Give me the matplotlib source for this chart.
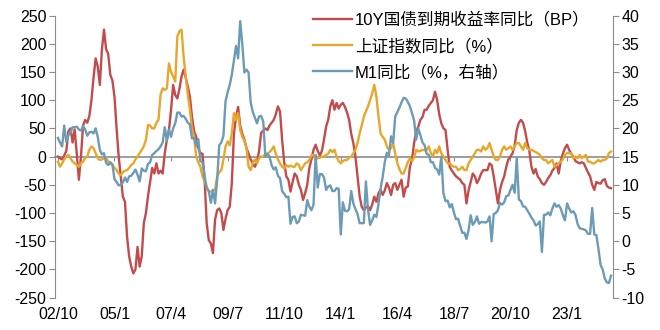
import numpy as np
import pandas as pd
import matplotlib
matplotlib.use("Agg")
import matplotlib.pyplot as plt

plt.rcParams["font.family"] = ["Liberation Sans", "Noto Sans CJK SC", "DejaVu Sans"]
plt.rcParams["axes.unicode_minus"] = False

# ---- data: monthly, 2002-10 .. 2024-10 ----
dates = pd.date_range("2002-10-01", "2024-10-01", freq="MS")

# 10Y CGB yield, YoY change (BP), left axis
red_10y_bp = [
    0, -3, -5,                                                        # 2002 Oct-Dec
    2, 10, 45, 50, 25, 48, 5, -41, 0, 55, 65, 60,                     # 2003
    72, 100, 140, 174, 160, 127, 190, 225, 190, 182, 145, 135,        # 2004
    106, 50, 0, -35, -71, -80, -142, -177, -195, -207, -200, -160,    # 2005
    -195, -177, -118, -100, -70, -45, -20, -30, -12, -30, -25, -30,   # 2006
    6, 30, 47, 83, 127, 109, 103, 120, 142, 154, 140, 124,            # 2007
    106, 70, 45, 35, 15, 6, 5, -40, -118, -148, -154, -171,           # 2008
    -112, -95, -92, -100, -130, -110, -95, -89, -47, 40, 70, 88,      # 2009
    55, 40, 30, 15, 5, -5, -12, -18, -10, 10, 42, 46,                 # 2010
    50, 47, 55, 60, 65, 75, 89, 80, 30, -10, -35, -41,                # 2011
    -62, -45, -30, -35, -50, -59, -77, -65, -50, -20, -5, 12,         # 2012
    21, 10, 2, 10, 30, 53, 65, 89, 100, 83, 95, 85,                   # 2013
    92, 95, 88, 78, 65, 40, 24, 0, -35, -70, -89, -95,                # 2014
    -90, -88, -95, -85, -71, -80, -65, -59, -68, -60, -47, -55,       # 2015
    -68, -50, -47, -59, -50, -41, -71, -55, -53, -18, -5, 24,         # 2016
    45, 53, 65, 70, 83, 83, 90, 95, 100, 115, 100, 75,                # 2017
    59, 50, 47, 12, -18, -25, -30, -35, -38, -41, -47, -50,           # 2018
    -83, -60, -45, -30, -35, -47, -40, -30, -24, -24, -24, -12,       # 2019
    -15, -35, -59, -83, -59, -45, -35, -18, -5, 0, 6, 20,             # 2020
    47, 60, 65, 60, 45, 25, 10, -18, -30, -22, -35, -40,              # 2021
    -47, -50, -45, -38, -33, -25, -20, -12, -30, -8, 5, 15,           # 2022
    21, 12, 5, 0, -8, -10, -12, -10, -12, -20, -28, -35,              # 2023
    -50, -59, -45, -47, -48, -42, -40, -52, -55, -56,                 # 2024 Jan-Oct
]

# SSE composite index YoY (%), left axis
sse_yoy = [
    -9, -18, -12,                                                     # 2002
    -5, 0, 3, -3, -9, -12, -15, -18, -12, -9, -3, 0,                  # 2003
    12, 18, 15, 6, -3, -6, -5, -3, -3, -8, -12, -15,                  # 2004
    -20, -24, -30, -33, -28, -25, -24, -20, -15, -12, -5, 0,          # 2005
    6, 12, 18, 30, 56, 55, 50, 50, 60, 65, 110, 121,                  # 2006
    118, 121, 165, 150, 142, 133, 213, 222, 225, 177, 142, 110,       # 2007
    83, 50, 35, 0, -10, -18, -35, -45, -53, -62, -62, -60,            # 2008
    -59, -35, -28, -24, -5, 18, 27, 20, 41, 77, 65, 77,               # 2009
    47, 35, 28, 15, -18, -24, -12, -5, -12, -3, 0, 0,                 # 2010
    5, 5, 8, 12, 18, 5, -5, -12, -18, -21, -15, -18,                  # 2011
    -16, -18, -18, -12, -15, -24, -18, -12, -10, -6, 2, 3,            # 2012
    -5, -3, -2, 0, 0, 3, 5, 12, 8, 12, 0, -8,                         # 2013
    -12, -8, -6, -6, -2, 0, 6, 12, 24, 41, 55, 71,                    # 2014
    80, 89, 100, 112, 127, 106, 71, 41, 35, 30, 18, 12,               # 2015
    15, 24, 5, -12, -22, -30, -30, -20, -10, -3, -8, -2,              # 2016
    12, 9, 10, 12, 11, 12, 18, 6, 0, 12, 6, 18,                       # 2017
    6, 0, -6, -12, -12, -16, -18, -18, -24, -22, -18, -24,            # 2018
    -24, -12, -6, 0, 6, 12, 12, 9, 18, 12, 15, 24,                    # 2019
    12, 0, -6, -6, 0, 12, 18, 12, 15, 18, 12, 18,                     # 2020
    24, 24, 18, 12, 24, 15, 12, 12, 10, 8, 6, 3,                      # 2021
    -3, -6, -6, -12, -9, -6, -18, -15, -12, -9, -5, 3,                # 2022
    6, 6, 6, -3, 0, -3, 3, -3, 0, 3, -9, -9,                          # 2023
    -12, -12, -9, -6, -9, -6, -6, -3, 6, 9,                           # 2024
]

# M1 YoY (%), right axis
m1_yoy = [
    18.3, 17.5, 16.8,                                                          # 2002
    20.5, 17.6, 18.8, 19.2, 20.2, 20.2, 20.3, 19.8, 19.6, 20.4, 19.8, 18.7,    # 2003
    19.3, 19.4, 19.1, 20.0, 18.5, 16.2, 15.4, 15.6, 13.9, 13.5, 14.0, 13.6,    # 2004
    11.0, 10.5, 9.9, 10.0, 10.4, 11.3, 10.5, 11.5, 11.6, 12.1, 12.7, 11.8,     # 2005
    10.6, 12.9, 12.5, 12.4, 13.7, 14.0, 15.3, 15.6, 16.0, 16.3, 16.8, 17.5,    # 2006
    20.2, 17.8, 19.8, 18.5, 20.0, 20.9, 22.8, 22.8, 22.1, 22.2, 21.7, 21.0,    # 2007
    20.7, 18.2, 18.3, 16.9, 18.1, 14.2, 14.0, 11.6, 9.4, 8.9, 6.8, 9.1,        # 2008
    6.7, 10.9, 17.0, 17.5, 18.7, 24.8, 26.4, 27.7, 29.5, 32.0, 34.6, 32.4,     # 2009
    39.0, 34.9, 29.9, 30.4, 29.9, 24.6, 22.9, 21.9, 20.9, 22.1, 22.2, 21.2,    # 2010
    15.0, 15.5, 15.0, 13.5, 12.7, 13.1, 11.6, 11.2, 8.9, 8.4, 7.8, 7.9,        # 2011
    3.1, 4.3, 4.4, 3.2, 3.5, 4.7, 4.6, 4.5, 7.3, 6.1, 5.5, 6.5,                # 2012
    15.3, 9.5, 11.9, 11.9, 11.3, 9.1, 9.7, 9.9, 8.9, 8.9, 9.4, 9.3,            # 2013
    1.2, 6.9, 5.4, 5.3, 5.7, 8.9, 6.7, 5.7, 4.8, 3.2, 3.2, 3.2,                # 2014
    10.6, 5.6, 2.9, 3.7, 4.7, 4.3, 6.6, 9.3, 11.4, 14.0, 15.7, 15.2,           # 2015
    18.6, 17.4, 22.1, 22.9, 23.7, 24.6, 25.4, 25.3, 24.7, 23.9, 22.7, 21.4,    # 2016
    18.0, 20.0, 18.8, 17.5, 17.0, 15.5, 15.3, 14.0, 14.0, 13.0, 12.7, 11.8,    # 2017
    15.0, 8.5, 7.1, 7.2, 6.0, 6.6, 5.1, 3.9, 4.0, 2.7, 1.5, 1.5,               # 2018
    0.4, 2.0, 4.6, 2.9, 3.4, 4.4, 3.1, 3.4, 3.4, 3.3, 3.5, 4.4,                # 2019
    0.0, 4.8, 5.0, 5.5, 6.8, 6.5, 6.9, 8.0, 8.1, 9.1, 10.0, 8.6,               # 2020
    14.7, 7.4, 7.1, 6.2, 6.1, 5.5, 4.9, 4.2, 3.7, 2.8, 3.0, 3.5,               # 2021
    -1.9, 4.7, 4.7, 5.1, 4.6, 5.8, 6.7, 6.1, 6.4, 5.8, 4.6, 3.7,               # 2022
    6.7, 5.8, 5.1, 5.3, 4.7, 3.1, 2.3, 2.2, 2.1, 1.9, 1.3, 1.3,                # 2023
    5.9, 1.2, 1.1, -1.4, -4.2, -5.0, -6.6, -7.3, -7.4, -6.1,                   # 2024
]

labels = ["10Y国债到期收益率同比（BP）", "上证指数同比（%）", "M1同比（%，右轴）"]
colors = ["#C44B4C", "#E8A72A", "#6C9CB5"]

# ---- plot ----
x = np.arange(len(dates))
tick_idx = np.arange(0, len(dates), 27)
tick_lbl = [f"{dates[i].year % 100:02d}/{dates[i].month}" for i in tick_idx]

fig = plt.figure(figsize=(6.6, 3.3), dpi=100)
ax = fig.add_axes([0.083, 0.098, 0.846, 0.855])
ax2 = ax.twinx()

l1, = ax.plot(x, red_10y_bp, color=colors[0], lw=1.7, label=labels[0], zorder=3)
l2, = ax.plot(x, sse_yoy, color=colors[1], lw=1.7, label=labels[1], zorder=4)
l3, = ax2.plot(x, m1_yoy, color=colors[2], lw=1.7, label=labels[2])

ax.set_xlim(-1.5, 265)
ax.set_ylim(-250, 250)
ax.set_yticks(np.arange(-250, 251, 50))
ax2.set_ylim(-10, 40)
ax2.set_yticks(np.arange(-10, 41, 5))

spine_c = "#8C8C8C"
for a in (ax, ax2):
    for s in a.spines.values():
        s.set_color(spine_c)
    a.spines["top"].set_visible(False)
ax.spines["right"].set_visible(False)
ax2.spines["left"].set_visible(False)
ax2.spines["bottom"].set_visible(False)

# category axis crosses at zero
ax.spines["bottom"].set_position(("data", 0))
ax.spines["bottom"].set_linewidth(1.2)
ax.set_xticks(tick_idx)
ax.tick_params(axis="x", direction="out", length=3, color=spine_c, labelbottom=False)

sec = ax.secondary_xaxis("bottom")
sec.set_xticks(tick_idx)
sec.set_xticklabels(tick_lbl)
sec.spines["bottom"].set_visible(False)
sec.tick_params(axis="x", length=0, labelsize=11.5, pad=7)

ax.tick_params(axis="y", direction="out", length=4, color=spine_c, labelsize=11.5, pad=2)
ax2.tick_params(axis="y", direction="out", length=4, color=spine_c, labelsize=11.5, pad=2)

leg = ax2.legend(handles=[l1, l2, l3], loc="upper left", bbox_to_anchor=(0.462, 0.99),
                 bbox_transform=fig.transFigure, frameon=False, fontsize=12,
                 handlelength=2.3, handletextpad=0.2, labelspacing=0.62, borderpad=0)

fig.savefig("out.png", dpi=100)
